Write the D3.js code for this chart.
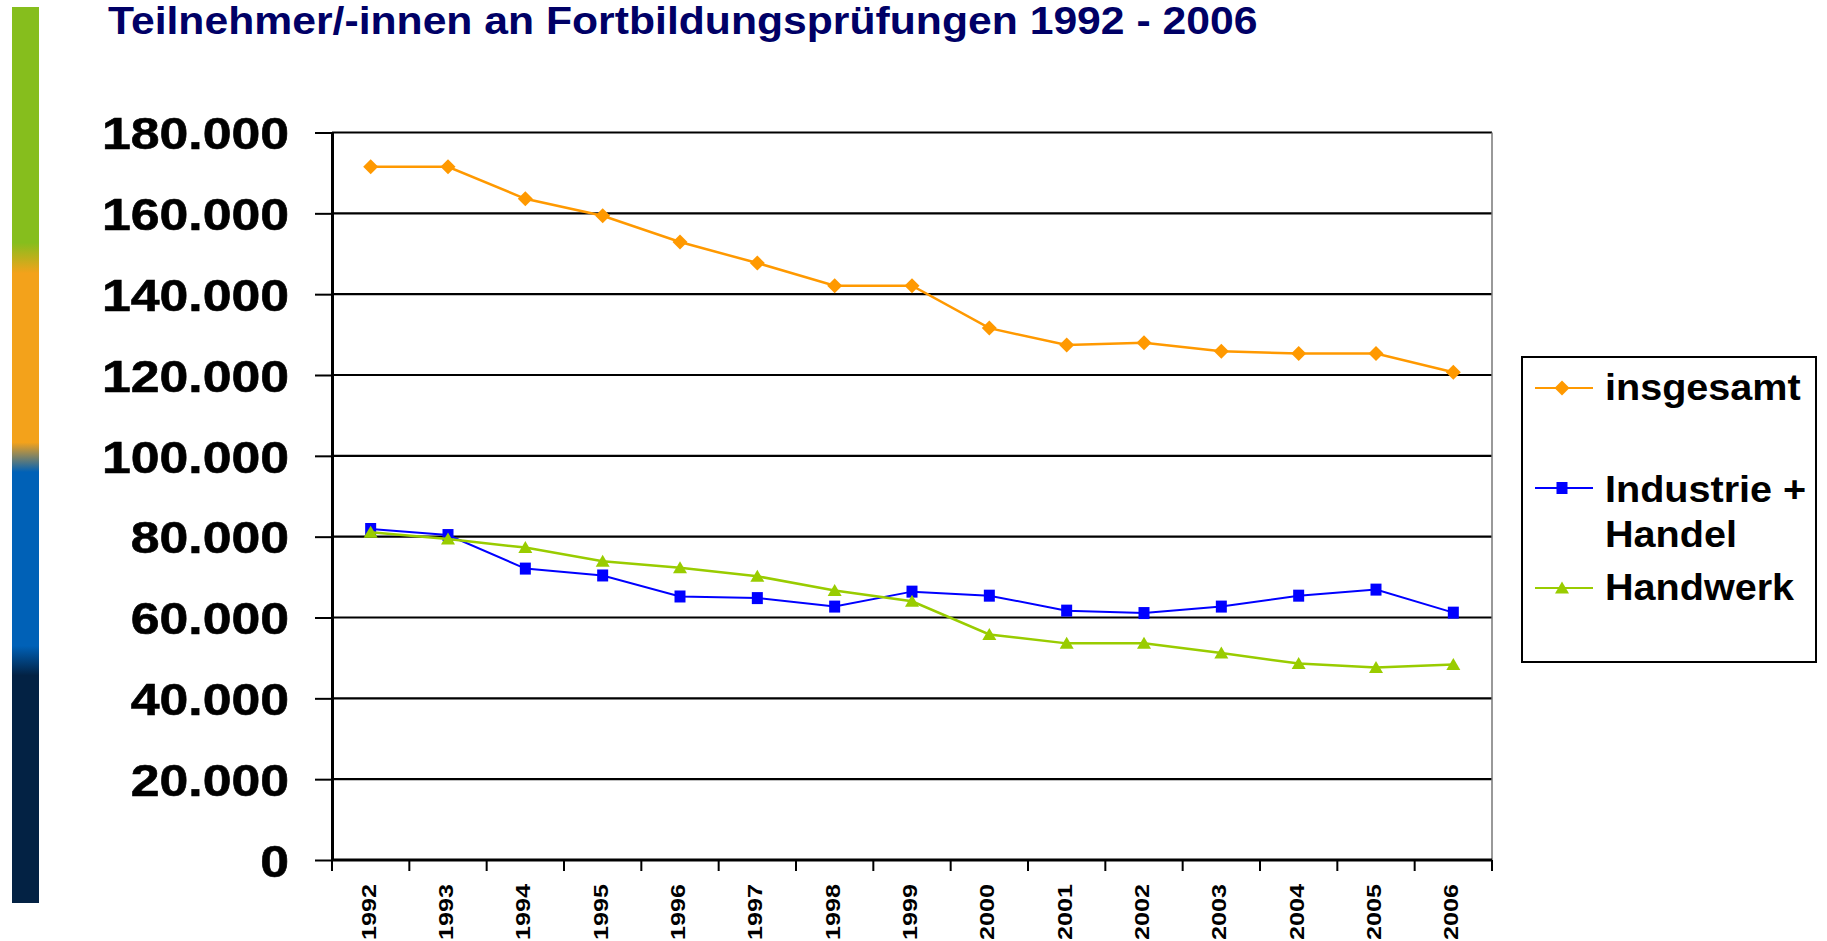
<!DOCTYPE html>
<html>
<head>
<meta charset="utf-8">
<script src="https://cdn.jsdelivr.net/npm/d3@7"></script>
<style>
  body { margin: 0; background: #fff; }
  svg { display: block; }
</style>
</head>
<body>
<script>
// data
const years = ["1992", "1993", "1994", "1995", "1996", "1997", "1998", "1999",
    "2000", "2001", "2002", "2003", "2004", "2005", "2006"];
const insgesamt = [171500, 171500, 163600, 159400, 152900, 147700, 142100, 142100,
    131600, 127400, 128000, 125900, 125300, 125300, 120700];
const industrie_handel = [81900, 80400, 72100, 70400, 65200, 64800, 62700, 66400,
    65400, 61700, 61100, 62700, 65400, 66900, 61200];
const handwerk = [81100, 79400, 77300, 73900, 72300, 70200, 66700, 64000,
    55800, 53600, 53600, 51200, 48600, 47600, 48400];
const y_ticks = [0, 20000, 40000, 60000, 80000, 100000, 120000, 140000, 160000, 180000];
const legend_labels = [["insgesamt"], ["Industrie +", "Handel"], ["Handwerk"]];
const title_text = "Teilnehmer/-innen an Fortbildungsprüfungen 1992 - 2006";

const series = [
    { values: insgesamt, color: "#FF9900", marker: "diamond", width: 2.5 },
    { values: industrie_handel, color: "#0000FF", marker: "square", width: 2 },
    { values: handwerk, color: "#99CC00", marker: "triangle", width: 2.5 }
];

const font_family = "'Liberation Sans', Arial, Helvetica, sans-serif";
const plot = { left: 332, right: 1492, top: 132.5, bottom: 860 };

const svg = d3
    .select("body")
    .append("svg")
    .attr("width", 1827)
    .attr("height", 941);

// coloured bar on the left edge
const defs = svg.append("defs");
const grad = defs
    .append("linearGradient")
    .attr("id", "side_bar")
    .attr("x1", 0).attr("y1", 0)
    .attr("x2", 0).attr("y2", 1);
[
    [0, "#86BE1D"], [0.263, "#86BE1D"], [0.297, "#F3A21B"], [0.486, "#F3A21B"],
    [0.519, "#0061B7"], [0.713, "#0061B7"], [0.746, "#032244"], [1, "#032244"]
].forEach(s => grad.append("stop").attr("offset", s[0]).attr("stop-color", s[1]));

svg.append("rect")
    .attr("x", 12).attr("y", 7)
    .attr("width", 27).attr("height", 896)
    .attr("fill", "url(#side_bar)");

// title
svg.append("text")
    .attr("transform", "translate(108,34) scale(1.095,1)")
    .attr("font-family", font_family)
    .attr("font-weight", "bold")
    .attr("font-size", 39)
    .attr("fill", "#000066")
    .text(title_text);

const x = d3.scaleBand().domain(years).range([plot.left, plot.right]).padding(0);
const y = d3.scaleLinear().domain([0, 180000]).range([plot.bottom, plot.top]);

// gridlines
svg.append("g")
    .selectAll("line")
    .data(y_ticks.filter(d => d > 0))
    .join("line")
    .attr("x1", plot.left)
    .attr("x2", plot.right)
    .attr("y1", d => y(d))
    .attr("y2", d => y(d))
    .attr("stroke", "#000")
    .attr("stroke-width", 2.2);

svg.append("line")
    .attr("x1", plot.right).attr("x2", plot.right)
    .attr("y1", plot.top).attr("y2", plot.bottom)
    .attr("stroke", "#777")
    .attr("stroke-width", 1.5);

// y axis, german number format
const de = d3.formatLocale({ decimal: ",", thousands: ".", grouping: [3], currency: ["", " €"] });
const y_axis = d3.axisLeft(y)
    .tickValues(y_ticks)
    .tickSize(17)
    .tickSizeOuter(0)
    .tickFormat(de.format(","));

const y_axis_g = svg.append("g")
    .attr("transform", "translate(" + plot.left + ",0)")
    .call(y_axis)
    .attr("font-family", font_family)
    .attr("font-weight", "bold")
    .attr("font-size", 45);

y_axis_g.select(".domain").attr("stroke", "#000").attr("stroke-width", 3);
y_axis_g.selectAll(".tick line").attr("stroke", "#000").attr("stroke-width", 2);
y_axis_g.selectAll(".tick text")
    .attr("fill", "#000")
    .attr("stroke", "#000")
    .attr("stroke-width", 0.6)
    .attr("x", -43 / 1.15)
    .attr("dy", "0.36em")
    .attr("transform", "scale(1.15,1)");

// x axis: line, ticks at category borders, rotated year labels
svg.append("line")
    .attr("x1", plot.left).attr("x2", plot.right)
    .attr("y1", plot.bottom).attr("y2", plot.bottom)
    .attr("stroke", "#000")
    .attr("stroke-width", 3);

svg.append("g")
    .selectAll("line")
    .data(years.map(d => x(d)).concat([x.range()[1]]))
    .join("line")
    .attr("x1", d => d).attr("x2", d => d)
    .attr("y1", plot.bottom).attr("y2", plot.bottom + 11)
    .attr("stroke", "#000")
    .attr("stroke-width", 2);

const x_axis_g = svg.append("g")
    .attr("transform", "translate(0," + plot.bottom + ")")
    .call(d3.axisBottom(x).tickSize(0))
    .attr("font-family", font_family)
    .attr("font-weight", "bold")
    .attr("font-size", 21);

x_axis_g.select(".domain").remove();
x_axis_g.selectAll(".tick text")
    .attr("fill", "#000")
    .attr("x", 0).attr("y", 0).attr("dy", 0)
    .attr("text-anchor", "end")
    .attr("transform", "translate(5,24) rotate(-90) scale(1.2,1)");

// markers
function marker_path(type) {
    if (type === "diamond") return "M0,-7.5L7.5,0L0,7.5L-7.5,0Z";
    if (type === "square") return "M-5.5,-6H5.5V6H-5.5Z";
    return "M0,-6.5L7,5.5H-7Z";
}

const x_mid = d => x(d) + x.bandwidth() / 2;

const line = d3.line()
    .x((d, i) => x_mid(years[i]))
    .y(d => y(d));

series.forEach(s => {
    svg.append("path")
        .datum(s.values)
        .attr("d", line)
        .attr("fill", "none")
        .attr("stroke", s.color)
        .attr("stroke-width", s.width);

    svg.append("g")
        .selectAll("path")
        .data(s.values)
        .join("path")
        .attr("d", marker_path(s.marker))
        .attr("transform", (d, i) => "translate(" + x_mid(years[i]) + "," + y(d) + ")")
        .attr("fill", s.color);
});

// legend
const legend = svg.append("g");
legend.append("rect")
    .attr("x", 1522).attr("y", 357)
    .attr("width", 294).attr("height", 305)
    .attr("fill", "#fff")
    .attr("stroke", "#000")
    .attr("stroke-width", 2);

const legend_marker_y = [388, 488, 588];
const legend_text_y = [400, 501.7, 600];

series.forEach((s, i) => {
    const g = legend.append("g");
    g.append("line")
        .attr("x1", 1535).attr("x2", 1593)
        .attr("y1", legend_marker_y[i]).attr("y2", legend_marker_y[i])
        .attr("stroke", s.color)
        .attr("stroke-width", 2);
    g.append("path")
        .attr("d", marker_path(s.marker))
        .attr("transform", "translate(1562," + legend_marker_y[i] + ")")
        .attr("fill", s.color);
    g.selectAll("text")
        .data(legend_labels[i])
        .join("text")
        .attr("transform", (d, j) => "translate(1605," + (legend_text_y[i] + j * 45) + ") scale(1.07,1)")
        .attr("font-family", font_family)
        .attr("font-weight", "bold")
        .attr("font-size", 37)
        .attr("fill", "#000")
        .text(d => d);
});
</script>
</body>
</html>
